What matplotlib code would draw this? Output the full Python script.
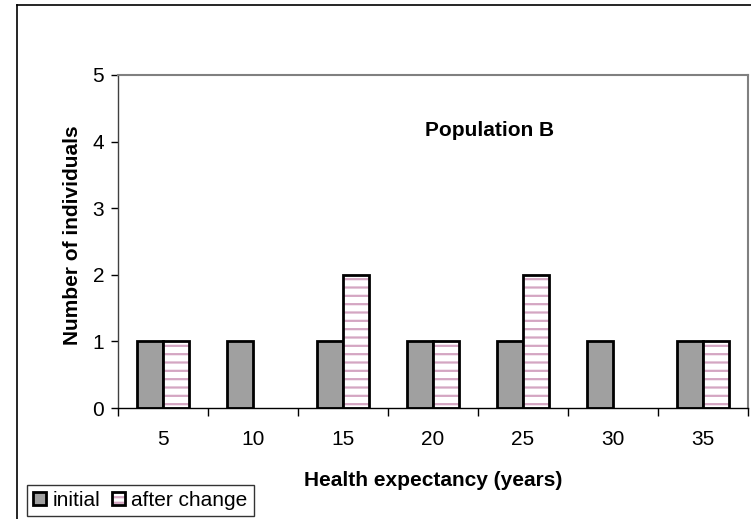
import matplotlib
matplotlib.use("Agg")
import matplotlib.pyplot as plt
import numpy as np
from matplotlib.patches import Rectangle
from matplotlib.legend_handler import HandlerTuple

plt.rcParams['font.family'] = ['Liberation Sans', 'DejaVu Sans']
plt.rcParams['hatch.linewidth'] = 1.6

categories = ['5', '10', '15', '20', '25', '30', '35']
initial = [1, 1, 1, 1, 1, 1, 1]
after_change = [1, 0, 2, 1, 2, 0, 1]
yticks = [0, 1, 2, 3, 4, 5]

GRAY = '#a0a0a0'
PINK = '#d4a6c2'
FS = 15

W, H = 751, 519
fig = plt.figure(figsize=(W/100, H/100), dpi=100)
ax = fig.add_axes([118/W, 1-408/H, (748-118)/W, (408-75)/H])

x = np.arange(len(categories))
bw = 0.29
b1 = ax.bar(x - bw/2, initial, bw, color=GRAY, edgecolor='black', linewidth=2, label='initial')
# hatched fill layer (pink stripes), then black outline layer
b2h = ax.bar(x + bw/2, after_change, bw, color='white', edgecolor=PINK, linewidth=0,
             hatch='--')
b2 = ax.bar(x + bw/2, after_change, bw, color='none', edgecolor='black', linewidth=2)
for r1, r2, v in zip(b2h, b2, after_change):
    if v == 0:
        r1.set_visible(False)
        r2.set_visible(False)

ax.set_xlim(-0.5, len(categories) - 0.5)
ax.set_ylim(0, 5)
ax.set_yticks(yticks)
ax.set_xticks(x)
ax.set_xticklabels(categories)
ax.set_xticks(np.arange(len(categories) + 1) - 0.5, minor=True)
ax.tick_params(axis='x', which='major', length=0, pad=16, labelsize=FS)
ax.tick_params(axis='x', which='minor', length=6, width=1, direction='out', color='black')
ax.tick_params(axis='y', length=5, width=1, direction='out', labelsize=FS, pad=5)

for s in ['top', 'right']:
    ax.spines[s].set_color('#808080')
    ax.spines[s].set_linewidth(1.5)
ax.spines['left'].set_color('#404040')
ax.spines['left'].set_linewidth(1)
ax.spines['bottom'].set_color('black')
ax.spines['bottom'].set_linewidth(1)

fig.text(72/W, 1-235/H, 'Number of individuals', fontsize=FS, fontweight='bold',
         ha='center', va='center', rotation=90)
fig.text(433/W, 1-480/H, 'Health expectancy (years)', fontsize=FS, fontweight='bold',
         ha='center', va='center')
fig.text(490/W, 1-130/H, 'Population B', fontsize=FS, fontweight='bold',
         ha='center', va='center')

# outer frame (left and top)
fig.add_artist(plt.Line2D([17/W, 17/W], [0, 1-5/H], color='black', lw=1.2, transform=fig.transFigure))
fig.add_artist(plt.Line2D([17/W, 1], [1-5/H, 1-5/H], color='black', lw=1.2, transform=fig.transFigure))

h_init = Rectangle((0, 0), 1, 1, facecolor=GRAY, edgecolor='black', linewidth=2)
h_after_fill = Rectangle((0, 0), 1, 1, facecolor='white', edgecolor=PINK, linewidth=0, hatch='---')
h_after_edge = Rectangle((0, 0), 1, 1, facecolor='none', edgecolor='black', linewidth=2)
leg = fig.legend([h_init, (h_after_fill, h_after_edge)], ['initial', 'after change'],
                 handler_map={tuple: HandlerTuple(ndivide=1, pad=0)},
                 loc='lower left', bbox_to_anchor=(27/W, 1-516/H), ncol=2, frameon=True,
                 fancybox=False, edgecolor='black', fontsize=FS, handlelength=0.62,
                 handleheight=0.62, handletextpad=0.3, columnspacing=0.58, borderpad=0.3,
                 borderaxespad=0)
leg.get_frame().set_linewidth(1)

fig.savefig('out.png', dpi=100)
